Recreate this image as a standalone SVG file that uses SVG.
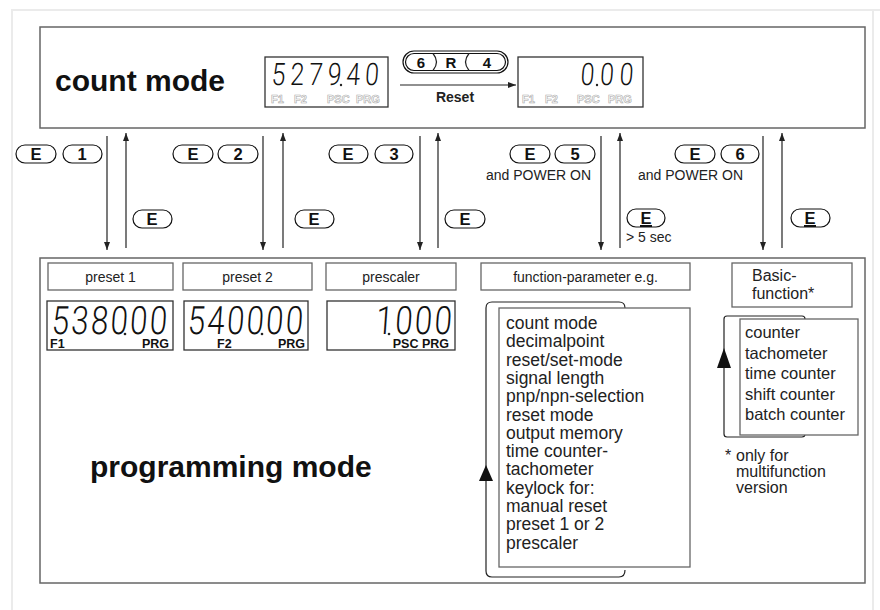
<svg xmlns="http://www.w3.org/2000/svg" width="880" height="610" viewBox="0 0 880 610">
<defs>
<marker id="ah" viewBox="0 0 8 8" refX="8" refY="4" markerWidth="8" markerHeight="8" markerUnits="userSpaceOnUse" orient="auto"><path d="M0,1 L8,4 L0,7 Z" fill="#222"/></marker>
</defs>
<style>
.frame{fill:none;stroke:#ebebeb;stroke-width:2}
.box{fill:#fff;stroke:#666;stroke-width:1.5}
.lbl{fill:#fff;stroke:#666;stroke-width:1.3}
.disp{fill:#fff;stroke:#333;stroke-width:1.3}
.btn{fill:#fff;stroke:#111;stroke-width:1.2}
.bt{font-family:"Liberation Sans",Arial,sans-serif;font-weight:bold;font-size:16.5px;text-anchor:middle;fill:#111}
.t{font-family:"Liberation Sans",Arial,sans-serif;fill:#222}
.big{font-family:"Liberation Sans",Arial,sans-serif;font-weight:bold;font-size:30px;fill:#111}
.seg{font-family:Roboto,"DejaVu Sans",sans-serif;font-weight:300;fill:#111}
.glab{font-family:"Liberation Sans",Arial,sans-serif;font-weight:bold;font-size:11px;fill:#fff;stroke:#aaa;stroke-width:0.6}
.blab{font-family:"Liberation Sans",Arial,sans-serif;font-weight:bold;font-size:12.5px;fill:#111}
.conn line{stroke:#222;stroke-width:1.2}
.loop{fill:none;stroke:#222;stroke-width:1.2}
.ul{stroke:#111;stroke-width:2}
</style>
<rect width="880" height="610" fill="#fff"/>
<path class="frame" d="M12,610 L12,10 L880,10 M873,10 L873,610"/>

<g id="count-mode">
<rect class="box" x="40" y="27" width="825" height="101"/>
<text class="big" x="55" y="91">count mode</text>
</g>

<g id="display-count">
<rect class="disp" x="265" y="57" width="123" height="50"/>
<text class="seg" transform="translate(271,85) scale(0.8,1) skewX(-5)" x="0" y="0" font-size="31" textLength="134" lengthAdjust="spacing">527940</text>
<circle cx="341" cy="85" r="1.2" fill="#222"/>
<text class="glab" x="271" y="103">F1</text>
<text class="glab" x="294" y="103">F2</text>
<text class="glab" x="327" y="103">PSC</text>
<text class="glab" x="356" y="103">PRG</text>
</g>

<g id="reset-button">
<rect class="btn" x="403" y="51" width="105" height="22" rx="11"/>
<rect class="btn" x="405.5" y="53.5" width="100" height="17" rx="8.5"/>
<path class="loop" d="M433,53.5 Q440,62 433,70.5 M469,53.5 Q462,62 469,70.5"/>
<text class="bt" x="421" y="68" style="font-size:15px">6</text>
<text class="bt" x="451" y="68" style="font-size:15px">R</text>
<text class="bt" x="487" y="68" style="font-size:15px">4</text>
<text class="t" x="455" y="102" text-anchor="middle" font-weight="bold" font-size="14">Reset</text>
</g>

<g id="display-reset">
<rect class="disp" x="518" y="57" width="125" height="50"/>
<text class="seg" transform="translate(580,85) scale(0.8,1) skewX(-5)" x="0" y="0" font-size="31" textLength="66" lengthAdjust="spacing">000</text>
<circle cx="597" cy="85" r="1.2" fill="#222"/>
<text class="glab" x="522" y="103">F1</text>
<text class="glab" x="545" y="103">F2</text>
<text class="glab" x="577" y="103">PSC</text>
<text class="glab" x="608" y="103">PRG</text>
</g>

<g id="buttons">
<rect class="btn" x="16" y="145" width="40" height="18" rx="9"/><text class="bt" x="36" y="160">E</text>
<rect class="btn" x="63" y="145" width="39" height="18" rx="9"/><text class="bt" x="82" y="160">1</text>
<rect class="btn" x="133" y="210" width="39" height="18" rx="9"/><text class="bt" x="152" y="225">E</text>

<rect class="btn" x="173" y="145" width="40" height="18" rx="9"/><text class="bt" x="193" y="160">E</text>
<rect class="btn" x="218" y="145" width="40" height="18" rx="9"/><text class="bt" x="238" y="160">2</text>
<rect class="btn" x="295" y="210" width="39" height="18" rx="9"/><text class="bt" x="314" y="225">E</text>

<rect class="btn" x="329" y="145" width="39" height="18" rx="9"/><text class="bt" x="348" y="160">E</text>
<rect class="btn" x="375" y="145" width="38" height="18" rx="9"/><text class="bt" x="394" y="160">3</text>
<rect class="btn" x="445" y="210" width="40" height="18" rx="9"/><text class="bt" x="465" y="225">E</text>

<rect class="btn" x="510" y="145" width="40" height="18" rx="9"/><text class="bt" x="530" y="160">E</text>
<rect class="btn" x="555" y="145" width="40" height="18" rx="9"/><text class="bt" x="575" y="160">5</text>
<text class="t" x="591" y="180" font-size="14" text-anchor="end">and POWER ON</text>
<rect class="btn" x="627" y="209" width="38" height="18" rx="9"/><text class="bt" x="646" y="224">E</text>
<line class="ul" x1="640" y1="226" x2="652" y2="226"/>
<text class="t" x="626" y="242" font-size="14">&gt; 5 sec</text>

<rect class="btn" x="675" y="145" width="40" height="18" rx="9"/><text class="bt" x="695" y="160">E</text>
<rect class="btn" x="721" y="145" width="38" height="18" rx="9"/><text class="bt" x="740" y="160">6</text>
<text class="t" x="638" y="180" font-size="14">and POWER ON</text>
<rect class="btn" x="791" y="209" width="39" height="18" rx="9"/><text class="bt" x="810" y="224">E</text>
<line class="ul" x1="804" y1="226" x2="816" y2="226"/>
</g>

<g id="connectors" class="conn">
<line x1="107" y1="136" x2="107" y2="250" marker-end="url(#ah)"/>
<line x1="126" y1="248" x2="126" y2="133" marker-end="url(#ah)"/>
<line x1="263" y1="136" x2="263" y2="250" marker-end="url(#ah)"/>
<line x1="283" y1="248" x2="283" y2="133" marker-end="url(#ah)"/>
<line x1="420" y1="136" x2="420" y2="250" marker-end="url(#ah)"/>
<line x1="438" y1="248" x2="438" y2="133" marker-end="url(#ah)"/>
<line x1="601" y1="136" x2="601" y2="250" marker-end="url(#ah)"/>
<line x1="620" y1="248" x2="620" y2="133" marker-end="url(#ah)"/>
<line x1="763" y1="136" x2="763" y2="250" marker-end="url(#ah)"/>
<line x1="782" y1="248" x2="782" y2="133" marker-end="url(#ah)"/>
<line x1="400" y1="85" x2="516" y2="85" marker-end="url(#ah)"/>
</g>

<g id="programming-mode">
<rect class="box" x="40" y="258" width="825" height="325"/>
<text class="big" x="90" y="477">programming mode</text>
</g>

<g id="preset1">
<rect class="lbl" x="48" y="263" width="125" height="27"/>
<text class="t" x="110.5" y="282" font-size="14" text-anchor="middle">preset 1</text>
<rect class="disp" x="47" y="301" width="126" height="49"/>
<text class="seg" transform="translate(51,334) scale(0.8,1) skewX(-5)" x="0" y="0" font-size="39" textLength="144" lengthAdjust="spacing">538000</text>
<circle cx="125" cy="334" r="1.3" fill="#222"/>
<text class="blab" x="50" y="348">F1</text>
<text class="blab" x="169" y="348" text-anchor="end">PRG</text>
</g>

<g id="preset2">
<rect class="lbl" x="183" y="263" width="129" height="27"/>
<text class="t" x="247.5" y="282" font-size="14" text-anchor="middle">preset 2</text>
<rect class="disp" x="184" y="301" width="124" height="49"/>
<text class="seg" transform="translate(187,334) scale(0.8,1) skewX(-5)" x="0" y="0" font-size="39" textLength="144" lengthAdjust="spacing">540000</text>
<circle cx="262" cy="334" r="1.3" fill="#222"/>
<text class="blab" x="217" y="348">F2</text>
<text class="blab" x="305" y="348" text-anchor="end">PRG</text>
</g>

<g id="prescaler">
<rect class="lbl" x="326" y="263" width="130" height="27"/>
<text class="t" x="391" y="282" font-size="14" text-anchor="middle">prescaler</text>
<rect class="disp" x="327" y="301" width="128" height="49"/>
<text class="seg" transform="translate(375,334) scale(0.8,1) skewX(-5)" x="0" y="0" font-size="39" textLength="95" lengthAdjust="spacing">1000</text>
<circle cx="389" cy="334" r="1.3" fill="#222"/>
<text class="blab" x="449" y="348" text-anchor="end">PSC PRG</text>
</g>

<g id="function-parameter">
<rect class="lbl" x="481" y="263" width="209" height="27"/>
<text class="t" x="585.5" y="282" font-size="14" text-anchor="middle">function-parameter e.g.</text>
<path class="loop" d="M625,308 Q625,302 619,302 L492,302 Q486,302 486,308 L486,571 Q486,577 492,577 L619,577 Q625,577 625,570"/>
<path d="M486,465 L479,481 L493,481 Z" fill="#111"/>
<rect class="lbl" x="499" y="308" width="191" height="259"/>
<text class="t" font-size="17.5">
<tspan x="506" y="329">count mode</tspan>
<tspan x="506" y="347.3">decimalpoint</tspan>
<tspan x="506" y="365.6">reset/set-mode</tspan>
<tspan x="506" y="383.9">signal length</tspan>
<tspan x="506" y="402.2">pnp/npn-selection</tspan>
<tspan x="506" y="420.5">reset mode</tspan>
<tspan x="506" y="438.8">output memory</tspan>
<tspan x="506" y="457.1">time counter-</tspan>
<tspan x="506" y="475.4">tachometer</tspan>
<tspan x="506" y="493.7">keylock for:</tspan>
<tspan x="506" y="512">manual reset</tspan>
<tspan x="506" y="530.3">preset 1 or 2</tspan>
<tspan x="506" y="548.6">prescaler</tspan>
</text>
</g>

<g id="basic-function">
<rect class="lbl" x="732" y="263" width="120" height="44"/>
<text class="t" font-size="16"><tspan x="752" y="281">Basic-</tspan><tspan x="752" y="299">function*</tspan></text>
<path class="loop" d="M805,319 Q805,316 802,316 L727,316 Q724,316 724,319 L724,434 Q724,437 727,437 L802,437 Q805,437 805,434"/>
<path d="M724,348 L717,368 L731,368 Z" fill="#111"/>
<rect class="lbl" x="740" y="319" width="118" height="116"/>
<text class="t" font-size="16.5">
<tspan x="745" y="338">counter</tspan>
<tspan x="745" y="358.5">tachometer</tspan>
<tspan x="745" y="379">time counter</tspan>
<tspan x="745" y="399.5">shift counter</tspan>
<tspan x="745" y="420">batch counter</tspan>
</text>
<text class="t" font-size="16"><tspan x="725" y="461">*</tspan><tspan x="736" y="461">only for</tspan><tspan x="736" y="477">multifunction</tspan><tspan x="736" y="493">version</tspan></text>
</g>
</svg>
